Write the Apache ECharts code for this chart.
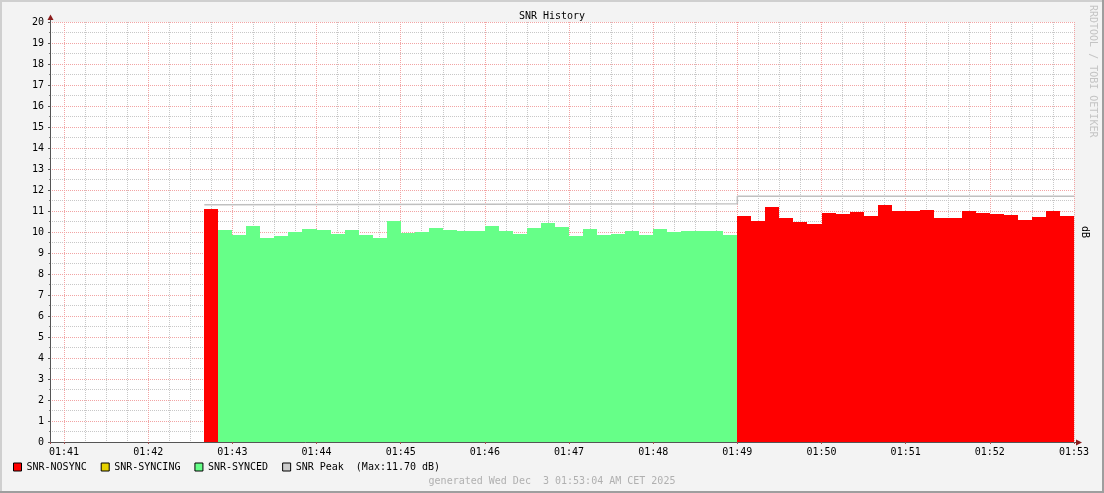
<!DOCTYPE html>
<html><head><meta charset="utf-8">
<script src="https://cdn.jsdelivr.net/npm/echarts@6/dist/echarts.min.js"></script>
<style>html,body{margin:0;padding:0;background:#f3f3f3;} #c{width:1104px;height:493px;}</style>
</head><body><div id="c"></div>
<script>
// ---- data ----
const chartDay = [2025, 11, 3];
const axisStart = '01:40:50';
const axisEnd = '01:53:00';
const stepSeconds = 10;

const nosyncFirstStart = '01:42:40';
const nosyncFirstValues = [11.10];

const syncedStart = '01:42:50';
const syncedValues = [10.10, 9.86, 10.29, 9.71, 9.81, 10.00, 10.14, 10.10, 9.90, 10.10,
  9.86, 9.71, 10.52, 9.95, 10.00, 10.19, 10.10, 10.05, 10.03, 10.29,
  10.05, 9.90, 10.19, 10.43, 10.24, 9.81, 10.14, 9.86, 9.90, 10.05,
  9.86, 10.14, 10.00, 10.05, 10.05, 10.05, 9.86];

const nosyncSecondStart = '01:49:00';
const nosyncSecondValues = [10.76, 10.52, 11.19, 10.67, 10.48, 10.38, 10.90, 10.86, 10.95, 10.76,
  11.29, 11.00, 11.00, 11.05, 10.67, 10.67, 11.00, 10.90, 10.86, 10.81,
  10.57, 10.71, 11.00, 10.76];

const syncingValues = [];

const peakTimes = ['01:42:40', '01:42:50', '01:49:00', '01:53:00'];
const peakValues = [11.30, 11.35, 11.70, 11.70];
const peakMax = 11.70;

const seriesNames = ['SNR-NOSYNC', 'SNR-SYNCING', 'SNR-SYNCED', 'SNR Peak'];
const yMin = 0, yMax = 20, yStep = 1;
const titleText = 'SNR History';
const unitText = 'dB';
const watermarkText = 'RRDTOOL / TOBI OETIKER';
const footerText = 'generated Wed Dec  3 01:53:04 AM CET 2025';

// ---- helpers ----
function toMs(hms) {
  const p = hms.split(':').map(Number);
  return new Date(chartDay[0], chartDay[1], chartDay[2], p[0], p[1], p[2]).getTime();
}
function buildBars(startStr, values) {
  const s = toMs(startStr);
  return values.map((v, i) => [s + i * stepSeconds * 1000, s + (i + 1) * stepSeconds * 1000, v]);
}
function pad(n) { return (n < 10 ? '0' : '') + n; }

const nosyncData = buildBars(nosyncFirstStart, nosyncFirstValues).concat(buildBars(nosyncSecondStart, nosyncSecondValues));
const syncedData = buildBars(syncedStart, syncedValues);
const syncingData = syncingValues.map(d => d);
const peakData = peakTimes.map((t, i) => [toMs(t), peakValues[i]]);

function renderBar(params, api) {
  const p0 = api.coord([api.value(0), api.value(2)]);
  const p1 = api.coord([api.value(1), 0]);
  const x0 = Math.round(p0[0]), x1 = Math.round(p1[0]);
  const y0 = Math.round(p0[1]), y1 = Math.round(p1[1]);
  return {
    type: 'rect',
    shape: { x: x0, y: y0, width: x1 - x0, height: y1 - y0 },
    style: { fill: api.visual('color') }
  };
}

const FONT = "'DejaVu Sans Mono', monospace";
const majorGrid = { color: '#f2a4a4', width: 1, type: [1, 1] };
const minorGrid = { color: '#c8c8c8', width: 1, type: [1, 1] };

const chart = echarts.init(document.getElementById('c'), null, { renderer: 'canvas' });
chart.setOption({
  backgroundColor: '#f3f3f3',
  animation: false,
  grid: { left: 50, right: 30, top: 22, bottom: 51, show: true, backgroundColor: '#ffffff', borderWidth: 0 },
  legend: {
    left: 13, top: 461, padding: 0, itemWidth: 8, itemHeight: 8, itemGap: 14,
    icon: 'rect', selectedMode: false,
    data: seriesNames,
    itemStyle: { borderColor: '#000', borderWidth: 1 },
    textStyle: { fontFamily: FONT, fontSize: 10, color: '#000', lineHeight: 12 },
    formatter: function (name) {
      return name === 'SNR Peak' ? name + '  (Max:' + peakMax.toFixed(2) + ' dB)' : name;
    }
  },
  xAxis: [
    {
      type: 'time', min: toMs(axisStart), max: toMs(axisEnd),
      minInterval: 20000, maxInterval: 20000,
      show: true, position: 'bottom',
      axisLine: { show: false }, axisTick: { show: false }, axisLabel: { show: false },
      splitLine: { show: true, lineStyle: minorGrid }
    },
    {
      type: 'time', min: toMs(axisStart), max: toMs(axisEnd),
      minInterval: 60000, maxInterval: 60000, position: 'bottom',
      axisLine: { show: true, lineStyle: { color: '#555', width: 1 } },
      axisTick: { show: true, length: 2, lineStyle: { color: '#a05050' } },
      axisLabel: {
        fontFamily: FONT, fontSize: 10, color: '#000', margin: 5,
        showMinLabel: true, showMaxLabel: true,
        formatter: function (v) {
          const d = new Date(v);
          if (d.getSeconds() !== 0) return '';
          return pad(d.getHours()) + ':' + pad(d.getMinutes());
        }
      },
      splitLine: { show: true, lineStyle: majorGrid }
    }
  ],
  yAxis: {
    type: 'value', min: yMin, max: yMax, interval: yStep,
    axisLine: { show: true, lineStyle: { color: '#555', width: 1 } },
    axisTick: { show: true, length: 2, lineStyle: { color: '#555' } },
    minorTick: { show: true, splitNumber: 2, length: 1, lineStyle: { color: '#888' } },
    axisLabel: { fontFamily: FONT, fontSize: 10, color: '#000', margin: 6 },
    splitLine: { show: true, lineStyle: majorGrid },
    minorSplitLine: { show: true, lineStyle: minorGrid }
  },
  series: [
    {
      name: seriesNames[0], type: 'custom', xAxisIndex: 1, renderItem: renderBar,
      itemStyle: { color: '#ff0000' }, encode: { x: [0, 1], y: 2 }, data: nosyncData, z: 3
    },
    {
      name: seriesNames[1], type: 'custom', xAxisIndex: 1, renderItem: renderBar,
      itemStyle: { color: '#e6d200' }, encode: { x: [0, 1], y: 2 }, data: syncingData, z: 3
    },
    {
      name: seriesNames[2], type: 'custom', xAxisIndex: 1, renderItem: renderBar,
      itemStyle: { color: '#66ff88' }, encode: { x: [0, 1], y: 2 }, data: syncedData, z: 3
    },
    {
      name: seriesNames[3], type: 'line', xAxisIndex: 1, step: 'end', showSymbol: false, symbol: 'none',
      itemStyle: { color: '#cccccc' }, lineStyle: { color: '#c0c0c0', width: 1.5 },
      data: peakData, z: 4
    }
  ],
  graphic: [
    { type: 'rect', shape: { x: 0, y: 0, width: 1104, height: 2 }, style: { fill: '#cfcfcf' }, silent: true },
    { type: 'rect', shape: { x: 0, y: 0, width: 2, height: 493 }, style: { fill: '#cfcfcf' }, silent: true },
    { type: 'rect', shape: { x: 0, y: 491, width: 1104, height: 2 }, style: { fill: '#9e9e9e' }, silent: true },
    { type: 'rect', shape: { x: 1102, y: 0, width: 2, height: 493 }, style: { fill: '#9e9e9e' }, silent: true },
    { type: 'line', shape: { x1: 50.5, y1: 22, x2: 50.5, y2: 18 }, style: { stroke: '#555', lineWidth: 1 }, silent: true },
    { type: 'line', shape: { x1: 1074, y1: 442.5, x2: 1077, y2: 442.5 }, style: { stroke: '#555', lineWidth: 1 }, silent: true },
    { type: 'polygon', shape: { points: [[47.5, 20], [53.5, 20], [50.5, 14.5]] }, style: { fill: '#8b1c1c' }, silent: true },
    { type: 'polygon', shape: { points: [[1076, 439.5], [1076, 445.5], [1082, 442.5]] }, style: { fill: '#8b1c1c' }, silent: true },
    { type: 'text', x: 552, y: 16, style: { text: titleText, font: '10px ' + FONT, fill: '#000', align: 'center', verticalAlign: 'middle' }, silent: true },
    { type: 'text', x: 1093, y: 5, rotation: -Math.PI / 2, style: { text: watermarkText, font: '10px ' + FONT, fill: '#c4c4c4', align: 'left', verticalAlign: 'middle' }, silent: true },
    { type: 'text', x: 1085, y: 232, rotation: -Math.PI / 2, style: { text: unitText, font: '10px ' + FONT, fill: '#000', align: 'center', verticalAlign: 'middle' }, silent: true },
    { type: 'text', x: 552, y: 481, style: { text: footerText, font: '10px ' + FONT, fill: '#b0b0b0', align: 'center', verticalAlign: 'middle' }, silent: true }
  ]
});
</script>
</body></html>
